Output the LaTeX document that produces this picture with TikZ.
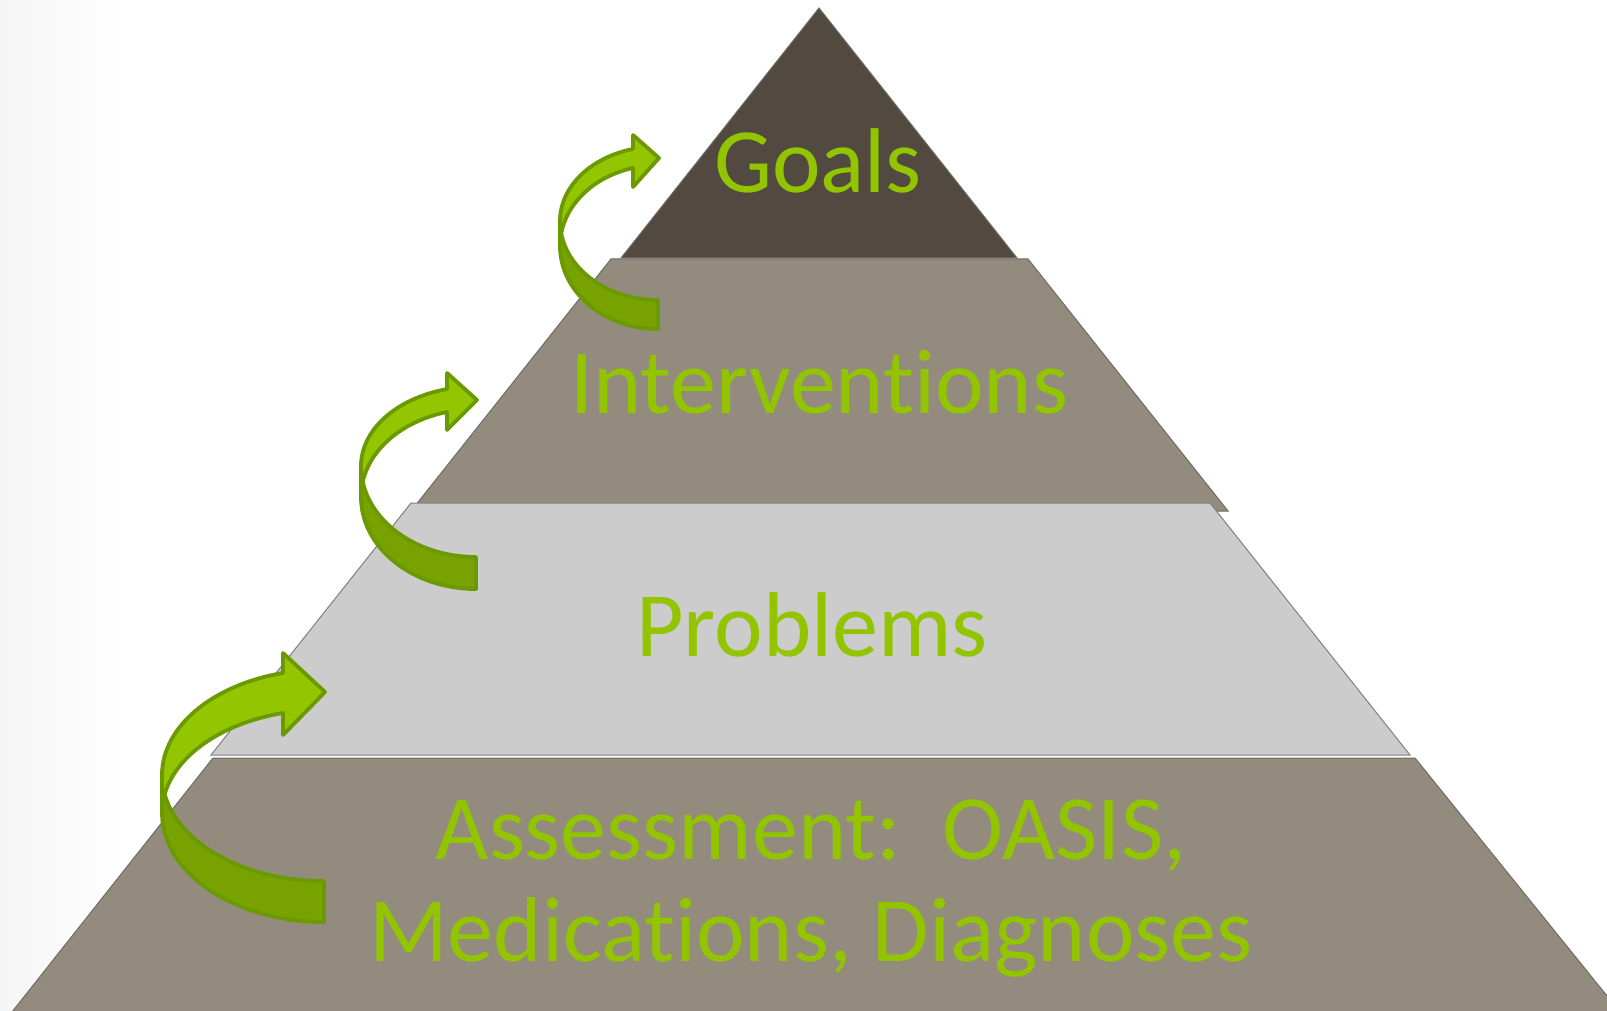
\documentclass[tikz,border=0pt]{standalone}
\usepackage{fontspec}
\setmainfont[Ligatures=NoCommon, RawFeature=-liga]{Carlito}
\definecolor{goalsfill}{HTML}{524A40}
\definecolor{tierfill}{HTML}{948B7F}
\definecolor{probfill}{HTML}{CCCCCC}
\definecolor{tieredge}{HTML}{6E6A64}
\definecolor{txtgreen}{HTML}{92C400}
\definecolor{arrowlight}{HTML}{93C600}
\definecolor{arrowdark}{HTML}{77A200}
\definecolor{arrowedge}{HTML}{6A9A00}
\begin{document}
\begin{tikzpicture}[x=1pt,y=-1pt,
  tier/.style={draw=tieredge, line width=1pt, line join=miter},
  lbl/.style={text=txtgreen, font=\fontsize{92}{110}\selectfont, anchor=base, inner sep=0pt},
  frontface/.style={fill=arrowlight, draw=arrowedge, line width=3.8pt, line join=round},
  backface/.style={fill=arrowdark, draw=arrowedge, line width=3.8pt, line join=round},
]
\useasboundingbox (0,0) rectangle (1607,1011);
% faint vignette on the left edge
\fill[white] (0,0) rectangle (1607,1011);
\shade[left color=black!4, right color=white] (0,0) rectangle (120,1011);

% pyramid tiers, top to bottom
\path[tier, fill=goalsfill] (819,8) -- (1017,258) -- (621,258) -- cycle;
\path[tier, fill=tierfill] (611,259) -- (1028,259) -- (1228,511) -- (411,511) -- cycle;
\path[tier, fill=probfill, draw=black!50] (411,503) -- (1210,503) -- (1410,755) -- (211,755) -- cycle;
\path[tier, fill=tierfill] (213,758) -- (1415,758) -- (1620,1012) -- (12,1012) -- cycle;

% tier labels
\node[lbl] (goals) at (818,193) {Goals};
\node[lbl] (interv) at (819,413) {Interventions};
\node[lbl] (probs) at (812,656) {Problems};
\node[lbl] (assessA) at (811,859) {Assessment:~~OASIS,};
\node[lbl] (assessB) at (811,961) {Medications, Diagnoses};

% U-turn arrow: Assessment -> Problems
\path[backface] (162,775) arc[start angle=180, end angle=270, x radius=162pt, y radius=106pt]
  -- (324,922) arc[start angle=270, end angle=180, x radius=162pt, y radius=109pt] -- cycle;
\path[frontface] (162,775) arc[start angle=180, end angle=104.66, x radius=162pt, y radius=105.5pt]
  -- (283,653) -- (325,692) -- (283,735) -- (283,713)
  arc[start angle=104.66, end angle=180, x radius=162pt, y radius=103.4pt] -- cycle;

% U-turn arrow: Problems -> Interventions
\path[backface] (361,466) arc[start angle=180, end angle=270, x radius=115pt, y radius=91pt]
  -- (476,589) arc[start angle=270, end angle=180, x radius=115pt, y radius=92pt] -- cycle;
\path[frontface] (361,466) arc[start angle=180, end angle=104.6, x radius=115pt, y radius=79.5pt]
  -- (447,373) -- (477,400) -- (447,430) -- (447,412)
  arc[start angle=104.6, end angle=180, x radius=115pt, y radius=87.8pt] -- cycle;

% U-turn arrow: Interventions -> Goals
\path[backface] (560,221) arc[start angle=180, end angle=270, x radius=98pt, y radius=79pt]
  -- (658,329) arc[start angle=270, end angle=180, x radius=98pt, y radius=83pt] -- cycle;
\path[frontface] (560,221) arc[start angle=180, end angle=104.8, x radius=98pt, y radius=74.5pt]
  -- (633,135) -- (659,158) -- (633,187) -- (633,168)
  arc[start angle=104.8, end angle=180, x radius=98pt, y radius=80.7pt] -- cycle;
\end{tikzpicture}
\end{document}
